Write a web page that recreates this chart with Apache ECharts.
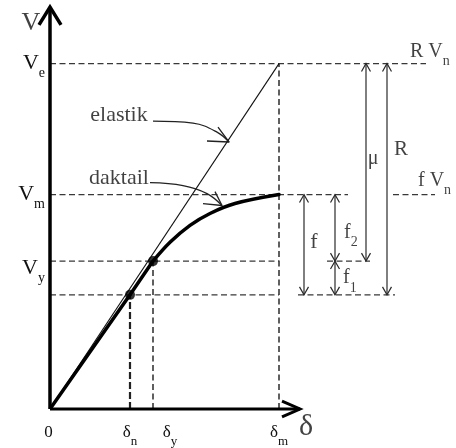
<!DOCTYPE html>
<html>
<head>
<meta charset="utf-8">
<script src="https://cdn.jsdelivr.net/npm/echarts@6/dist/echarts.min.js"></script>
<style>
  html, body { margin: 0; padding: 0; background: #fff; }
  #c { width: 456px; height: 448px; }
</style>
</head>
<body>
<div id="c"></div>
<script>
// ---- Data: load levels (V) and displacements (δ) of the idealised response ----
const vNames = ['V_n', 'V_y', 'V_m', 'V_e'];
const vValues = [115, 149, 216, 348];
const dNames = ['0', 'δ_n', 'δ_y', 'δ_m'];
const dValues = [0, 80, 103, 229];

// Elastic response: straight line up to V_e at δ_m
const elasticPath = [[0, 0], [229, 348]];
// Ductile response: linear through V_n up to yield, then softening towards V_m
const ductileLinear = [[0, 0], [80, 115], [103, 149]];
const ductileCurve = [[103, 149], [120, 168], [140, 185], [160, 197], [185, 207], [229, 216]];
const markedPoints = [[80, 115], [103, 149]];

// Dimension arrows between load levels
const dimNames = ['f', 'f_2', 'f_1', 'μ', 'R'];
const dimFrom = ['V_m', 'V_m', 'V_y', 'V_e', 'V_e'];
const dimTo = ['V_n', 'V_y', 'V_n', 'V_y', 'V_n'];

// ---- Layout ----
const FONT = '"Liberation Serif", "Times New Roman", serif';
const INK = '#111';
const GUIDE = '#383838';
const X_MAX = 400, Y_MAX = 405;
const level = n => vValues[vNames.indexOf(n)];
const disp = n => dValues[dNames.indexOf(n)];

// horizontal extents of the dashed level guides
const guideSpans = {
  V_e: [[0, 376]],
  V_m: [[0, 298], [343, 385]],
  V_y: [[0, disp('δ_m')], [277, 320]],
  V_n: [[0, disp('δ_m')], [248, 345]]
};
// where each dimension arrow stands
const dimX = { f: 254, f_2: 285, f_1: 285, 'μ': 316, R: 337 };

// base + subscript rich text: the base glyph stays centred on the anchor,
// the subscript drops below it
function subRich(size, subSize, drop, down = 0, right = 0) {
  return {
    b: { fontFamily: FONT, fontSize: size, lineHeight: size + 2, color: INK,
         padding: [2 * down, 0, 0, 2 * right] },
    s: { fontFamily: FONT, fontSize: subSize, lineHeight: subSize + 2, color: INK,
         padding: [2 * (drop + down), 0, 0, 0] }
  };
}
function richText(name, b = 'b', s = 's') {
  const i = name.lastIndexOf('_');
  if (i < 0) return `{${b}|${name}}`;
  return `{${b}|${name.slice(0, i)}}{${s}|${name.slice(i + 1)}}`;
}
function prefixed(obj, p) {
  const o = {};
  Object.keys(obj).forEach(k => { o[k + p] = obj[k]; });
  return o;
}

// open chevron arrow head at a tip, pointing along (dx, dy)
function chevron(tip, dx, dy, len, half) {
  const L = Math.hypot(dx, dy), ux = dx / L, uy = dy / L;
  const bx = tip[0] - ux * len, by = tip[1] - uy * len;
  return [[bx - uy * half, by + ux * half], tip, [bx + uy * half, by - ux * half]];
}

// axes with open arrow heads
const axisY = [[0, 0], [0, Y_MAX]];
const axisX = [[0, 0], [250, 0]];

// dashed guides
const dashed = [];
vNames.forEach(n => guideSpans[n].forEach(sp => dashed.push([[sp[0], level(n)], [sp[1], level(n)]])));
const vertGuides = [['δ_y', 'V_y'], ['δ_m', 'V_e']].map(p => [[disp(p[0]), 0], [disp(p[0]), level(p[1])]]);
const vertGuideN = [[[disp('δ_n'), 0], [disp('δ_n'), level('V_n')]]];

// dimension arrows
const dims = [];
dimNames.forEach((n, i) => {
  const x = dimX[n], top = level(dimFrom[i]), bot = level(dimTo[i]);
  dims.push([[x, top], [x, bot]]);
  dims.push(chevron([x, top], 0, 1, 8, 4.5));
  dims.push(chevron([x, bot], 0, -1, 8, 4.5));
});

// curved callouts pointing at the two responses
const callElastic = [[103, 290], [143, 288], [167, 279], [179, 269]];
const callDuctile = [[100, 228], [133, 225], [157, 217], [172, 205]];
const callHeads = [
  [[168, 284], [179, 269], [157, 270]],
  [[165, 219], [172, 205], [153, 207]]
];

// free text annotations: [text, x, y, anchor, size, subSize]
const notes = [
  ['elastik', 69, 296, 'c', 22],
  ['daktail', 69, 232, 'c', 22],
  ['V', -19, 389, 'c', 26],
  ['δ', 256, -18, 'c', 30],
  ['R V_n', 360, 360, 'l', 20, 14],
  ['f V_n', 368, 230, 'l', 20, 14],
  ['μ', 323, 252, 'c', 20],
  ['R', 351, 261, 'c', 21],
  ['f', 264, 168, 'c', 22],
  ['f_2', 294, 178, 'l', 20, 14],
  ['f_1', 293, 132, 'l', 20, 14]
];

function linesSeries(data, style, z) {
  return {
    type: 'lines', coordinateSystem: 'cartesian2d', polyline: true, clip: false,
    silent: true, animation: false, z: z || 2,
    data: data.map(c => ({ coords: c })),
    lineStyle: Object.assign({ opacity: 1, curveness: 0, cap: 'butt', join: 'miter' }, style)
  };
}

const yRich = Object.assign({}, subRich(22, 14, 10), prefixed(subRich(22, 14, 10, 7), 'l'));
const xRich = Object.assign({}, subRich(17, 13, 9), prefixed(subRich(17, 13, 9, 0, 17), 'r'));

const chart = echarts.init(document.getElementById('c'));
chart.setOption({
  animation: false,
  backgroundColor: '#fff',
  grid: { left: 50, right: 456 - 50 - X_MAX, top: 448 - 36 - Y_MAX, bottom: 36 },
  xAxis: {
    type: 'value', min: 0, max: X_MAX,
    axisLine: { show: false }, axisTick: { show: false }, splitLine: { show: false },
    axisLabel: {
      customValues: dValues, margin: 14,
      formatter: v => {
        const n = dNames[dValues.indexOf(v)];
        if (n === '0') return '{b|0}{s| }';
        return n === 'δ_y' ? richText(n, 'br', 'sr') : richText(n);
      },
      rich: xRich
    }
  },
  yAxis: {
    type: 'value', min: 0, max: Y_MAX,
    axisLine: { show: false }, axisTick: { show: false }, splitLine: { show: false },
    axisLabel: {
      customValues: vValues, margin: 5,
      formatter: v => {
        const n = vNames[vValues.indexOf(v)];
        return n === 'V_y' ? richText(n, 'bl', 'sl') : richText(n);
      },
      rich: yRich
    }
  },
  series: [
    linesSeries(dashed, { color: GUIDE, width: 1.4, type: [6, 3.5] }, 1),
    linesSeries(vertGuides, { color: GUIDE, width: 1.6, type: [6, 3.5] }, 1),
    linesSeries(vertGuideN, { color: '#222', width: 2.2, type: [7, 3] }, 1),
    linesSeries([axisY, chevron([0, Y_MAX], 0, 1, 18, 11)], { color: '#000', width: 3.5 }, 5),
    linesSeries([axisX, chevron([250, 0], 1, 0, 18, 8)], { color: '#000', width: 3 }, 5),
    linesSeries(dims, { color: '#2a2a2a', width: 1.2 }, 3),
    linesSeries(callHeads, { color: '#222', width: 1.3, join: 'round' }, 3),
    {
      type: 'line', data: elasticPath, symbol: 'none', clip: false, silent: true, z: 3,
      lineStyle: { color: '#111', width: 1.1 }
    },
    {
      type: 'line', data: ductileLinear, symbol: 'none', clip: false, silent: true, z: 4,
      lineStyle: { color: '#000', width: 3.5 }
    },
    {
      type: 'line', data: ductileCurve, symbol: 'none', clip: false, silent: true, z: 4,
      smooth: 0.35,
      lineStyle: { color: '#000', width: 3.5, cap: 'round' }
    },
    {
      type: 'line', data: callElastic, symbol: 'none', clip: false, silent: true, z: 3,
      smooth: 0.4, lineStyle: { color: '#222', width: 1.3 }
    },
    {
      type: 'line', data: callDuctile, symbol: 'none', clip: false, silent: true, z: 3,
      smooth: 0.4, lineStyle: { color: '#222', width: 1.3 }
    },
    {
      type: 'scatter', data: markedPoints, symbol: 'circle', symbolSize: 10,
      clip: false, silent: true, z: 6, itemStyle: { color: '#000' }
    },
    {
      type: 'scatter', clip: false, silent: true, z: 7, symbolSize: 0,
      data: notes.map(nt => ({
        value: [nt[1], nt[2]],
        label: {
          show: true,
          position: nt[3] === 'l' ? 'right' : 'inside',
          distance: 0,
          formatter: richText(nt[0]),
          rich: subRich(nt[4], nt[5] || 14, 10)
        }
      }))
    }
  ]
});
</script>
</body>
</html>
